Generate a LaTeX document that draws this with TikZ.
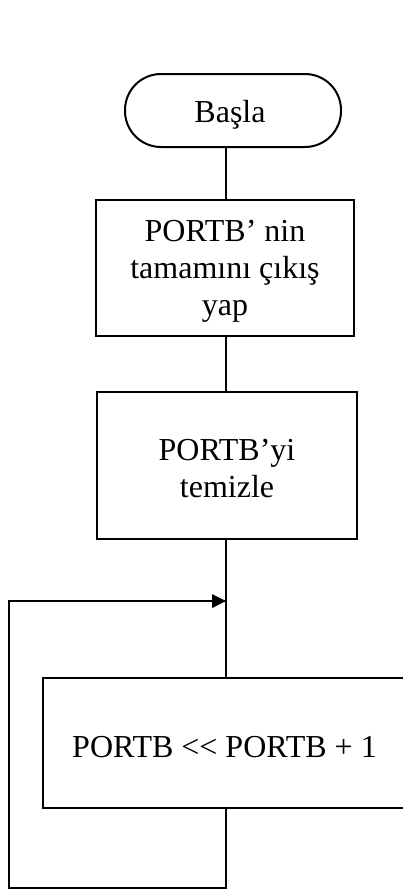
\documentclass[tikz,border=0pt]{standalone}
\usepackage{fontspec}
\setmainfont{Liberation Serif}
\usetikzlibrary{arrows.meta}
\begin{document}
\begin{tikzpicture}[x=1pt,y=-1pt,
  every node/.style={font=\fontsize{32}{37}\selectfont},
  conn/.style={line width=2pt},
  procbox/.style={draw,line width=2pt,align=center,inner sep=0pt},
  termbox/.style={draw,line width=2pt,rounded corners=36pt,inner sep=0pt}]
\useasboundingbox (0,0) rectangle (403,891);
\node[termbox,minimum width=216pt,minimum height=73pt] (start) at (233,110.5) {};
\node (st) at (230,115) {Başla};
\node[procbox,minimum width=258pt,minimum height=136pt] (b1) at (225,268) {};
\node[align=center] (t1) at (225,271) {PORTB’ nin\\tamamını çıkış\\yap};
\node[procbox,minimum width=260pt,minimum height=147pt] (b2) at (227,465.5) {};
\node[align=center] (t2) at (227,469) {PORTB’yi\\temizle};
\node[procbox,minimum width=400pt,minimum height=130pt] (b3) at (243,743) {};
\node (t3) at (224.5,747) {PORTB <{}< PORTB + 1};
\coordinate (j) at (226,601);
\coordinate (br) at (226,888);
\coordinate (bl) at (9,888);
\coordinate (tl) at (9,601);
\draw[conn] (start.south -| j) -- (b1.north -| j);
\draw[conn] (b1.south -| j) -- (b2.north -| j);
\draw[conn] (b2.south -| j) -- (b3.north -| j);
\draw[conn] (b3.south -| j) -- (br) -- (bl) -- (tl) -- (j);
\fill (j) -- ++(-14,-7) -- ++(0,14) -- cycle;
\end{tikzpicture}
\end{document}
